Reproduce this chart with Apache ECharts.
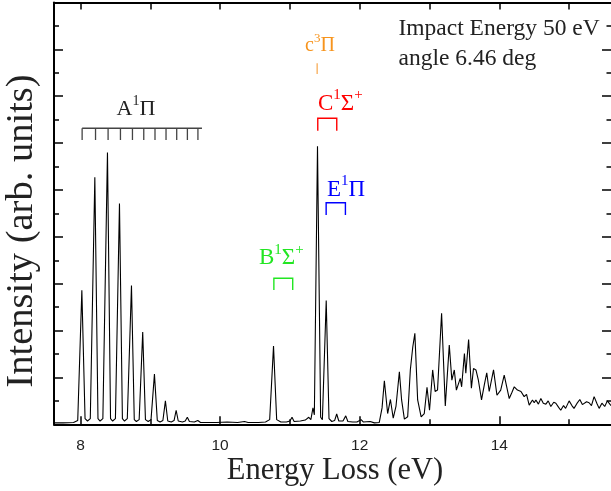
<!DOCTYPE html>
<html><head><meta charset="utf-8">
<script src="https://cdn.jsdelivr.net/npm/echarts@6/dist/echarts.min.js"></script>
<style>html,body{margin:0;padding:0;background:#fff}#c{width:611px;height:491px}</style>
</head><body><div id="c"></div>
<script>
// ---- data ----
// A1Π vibrational progression
const energyA = [7.62,7.75,7.90,7.96,8.019,8.065,8.10,8.14,8.205,8.25,8.28,8.32,8.386,8.43,8.46,8.50,8.558,8.60,8.63,8.67,8.730,8.77,8.80,8.84,8.891,8.93,8.97,9.01,9.059,9.10,9.14,9.18,9.216,9.25,9.30,9.34,9.37,9.40,9.46,9.50,9.53,9.56,9.63,9.68,9.72];
const intensityA = [0.03,0.03,0.04,0.08,2.86,0.12,0.07,0.12,5.27,0.12,0.07,0.12,5.80,0.12,0.07,0.12,4.71,0.12,0.07,0.12,2.96,0.10,0.06,0.10,1.97,0.10,0.06,0.10,1.07,0.08,0.05,0.08,0.50,0.07,0.05,0.08,0.30,0.07,0.05,0.07,0.15,0.06,0.05,0.08,0.04];
// B, C, E Rydberg states
const energyMid = [9.80,9.95,10.10,10.25,10.35,10.40,10.55,10.65,10.71,10.765,10.81,10.87,10.95,11.00,11.03,11.06,11.15,11.22,11.27,11.30,11.33,11.35,11.395,11.44,11.465,11.52,11.56,11.60,11.64,11.67,11.70,11.76,11.80,11.83,11.90,11.96,12.02,12.05,12.15];
const intensityMid = [0.04,0.04,0.05,0.04,0.06,0.04,0.04,0.05,0.10,1.67,0.10,0.05,0.05,0.07,0.15,0.06,0.07,0.09,0.15,0.10,0.35,0.20,5.93,0.15,0.10,2.64,0.12,0.06,0.08,0.22,0.07,0.07,0.18,0.06,0.05,0.05,0.10,0.05,0.06];
// higher Rydberg region
const energyHigh = [12.21,12.28,12.32,12.353,12.40,12.44,12.48,12.52,12.568,12.60,12.64,12.687,12.725,12.76,12.79,12.83,12.88,12.925,12.964,13.0,13.045,13.08,13.115,13.173,13.226,13.283,13.32,13.355,13.385,13.44,13.46,13.50,13.52,13.56,13.60,13.63,13.665,13.70,13.745,13.785,13.82,13.855,13.917,13.966,14.02,14.07];
const intensityHigh = [0.03,0.04,0.35,0.93,0.23,0.53,0.13,0.39,1.12,0.52,0.11,0.16,1.16,1.65,1.94,0.52,0.16,0.23,0.79,0.30,1.16,0.70,0.73,2.37,0.39,1.69,0.94,1.16,0.73,0.98,0.80,1.51,1.09,1.81,0.77,1.19,1.16,0.94,0.52,0.84,1.10,0.70,1.16,0.62,0.73,1.05];
// continuum tail
const energyTail = [14.142,14.18,14.214,14.26,14.31,14.356,14.39,14.428,14.475,14.50,14.524,14.56,14.595,14.63,14.667,14.70,14.738,14.78,14.81,14.85,14.88,14.92,14.95,15.0,15.04,15.07,15.11,15.153,15.19,15.215,15.25,15.286,15.32,15.358,15.40,15.43,15.47,15.51,15.548,15.6];
const intensityTail = [0.55,0.68,0.80,0.73,0.70,0.59,0.64,0.41,0.52,0.46,0.52,0.43,0.55,0.45,0.43,0.50,0.38,0.47,0.45,0.36,0.30,0.40,0.34,0.50,0.40,0.34,0.44,0.53,0.42,0.38,0.48,0.46,0.40,0.59,0.44,0.34,0.45,0.38,0.50,0.40];

const xMajorTicks = [8, 10, 12, 14];
const xMinorTicks = [9, 11, 13, 15];
const yMajorTicks = [1, 2, 3, 4, 5, 6, 7, 8];
const yMinorTicks = [0.5, 1.5, 2.5, 3.5, 4.5, 5.5, 6.5, 7.5, 8.5];
const aBandLevels = [8.023, 8.215, 8.395, 8.572, 8.744, 8.906, 9.067, 9.225, 9.378, 9.531, 9.682];
const aBandEnd = 9.74;
const bBand = [10.770, 11.040];
const cBand = [11.399, 11.671];
const eBand = [11.519, 11.795];
const cTriplet = 11.39;

const energy = energyA.concat(energyMid, energyHigh, energyTail);
const intensity = intensityA.concat(intensityMid, intensityHigh, intensityTail);

const SERIF = 'Liberation Serif';
const SANS = 'Liberation Sans';
const X_MIN = 7.62, X_MAX = 15.6;

const chart = echarts.init(document.getElementById('c'), null, {renderer: 'canvas'});

function xAx(pos, ticks, len, withLine, withLabel) {
  return {
    type: 'value', position: pos, min: X_MIN, max: X_MAX,
    axisLine: {show: withLine, onZero: false, lineStyle: {color: '#000', width: 2}},
    axisTick: {show: true, inside: true, length: len, customValues: ticks, lineStyle: {color: '#000', width: 1.5}},
    axisLabel: withLabel ? {show: true, customValues: ticks, margin: 13, fontFamily: SANS, fontSize: 15.5, color: '#222'} : {show: false},
    splitLine: {show: false}
  };
}
function yAx(pos, ticks, len, withLine) {
  return {
    type: 'value', position: pos, min: 0, max: 9,
    axisLine: {show: withLine, onZero: false, lineStyle: {color: '#000', width: 2}},
    axisTick: {show: true, inside: true, length: len, customValues: ticks, lineStyle: {color: '#000', width: 1.5}},
    axisLabel: {show: false},
    splitLine: {show: false}
  };
}

chart.setOption({
  animation: false,
  backgroundColor: '#fff',
  grid: {left: 54, right: 0, top: 2.5, bottom: 66.7, containLabel: false},
  xAxis: [
    xAx('bottom', xMajorTicks, 8, true, true),
    xAx('bottom', xMinorTicks, 5, false, false),
    xAx('top', xMajorTicks, 7, true, false),
    xAx('top', xMinorTicks, 7, false, false)
  ],
  yAxis: [
    yAx('left', yMajorTicks, 9, true),
    yAx('left', yMinorTicks, 5, false),
    yAx('right', yMajorTicks, 9, false),
    yAx('right', yMinorTicks, 4.5, false)
  ],
  series: [{
    type: 'line', xAxisIndex: 0, yAxisIndex: 0,
    data: energy.map((e, i) => [e, intensity[i]]),
    showSymbol: false, symbol: 'none',
    lineStyle: {color: '#000', width: 1.1},
    clip: true
  }]
});

function px(v) { return chart.convertToPixel({xAxisIndex: 0}, v); }

function richLabel(left, baseline, text, color, size, supSize) {
  const L = Math.round(size * 1.38);
  const top = baseline - (L / 2 + 0.3 * size);
  return {
    type: 'text', x: left, y: top, silent: true,
    style: {
      text: text, fill: color, align: 'left', verticalAlign: 'top', textAlign: 'left', textVerticalAlign: 'top',
      fontFamily: SERIF, fontSize: size,
      rich: {
        m: {fontFamily: SERIF, fontSize: size, lineHeight: L, fill: color},
        s: {fontFamily: SERIF, fontSize: supSize, lineHeight: supSize, verticalAlign: 'top', fill: color}
      }
    }
  };
}
function plainText(x, y, text, size, align, rot) {
  return {
    type: 'text', x: x, y: y, rotation: rot || 0, silent: true,
    style: {text: text, fill: '#222', fontFamily: SERIF, fontSize: size,
      align: align, verticalAlign: 'middle', textAlign: align, textVerticalAlign: 'middle'}
  };
}
function bracket(range, yTop, yBot, color) {
  const x1 = px(range[0]), x2 = px(range[1]);
  return {type: 'polyline', silent: true,
    shape: {points: [[x1, yBot], [x1, yTop], [x2, yTop], [x2, yBot]]},
    style: {stroke: color, lineWidth: 1.4, fill: null}};
}

const g = [];
// A1Π comb
const combTop = 128.3, combBot = 140;
g.push({type: 'line', silent: true, shape: {x1: px(aBandLevels[0]), y1: combTop, x2: px(aBandEnd), y2: combTop}, style: {stroke: '#444', lineWidth: 1.4}});
aBandLevels.forEach(v => {
  g.push({type: 'line', silent: true, shape: {x1: px(v), y1: combTop, x2: px(v), y2: combBot}, style: {stroke: '#444', lineWidth: 1.3}});
});
g.push(richLabel(116.5, 116, '{m|A}{s|1}{m|Π}', '#222', 22, 14));
// c3Π
g.push(richLabel(305, 51.7, '{m|c}{s|3}{m|Π}', '#f7941d', 20, 13));
g.push({type: 'line', silent: true, shape: {x1: px(cTriplet), y1: 63.3, x2: px(cTriplet), y2: 74}, style: {stroke: '#f7a54a', lineWidth: 1.2}});
// C1Σ+
g.push(richLabel(318, 110.7, '{m|C}{s|1}{m|Σ}{s|+}', '#ff0000', 23, 15));
g.push(bracket(cBand, 118.3, 130.7, '#ff0000'));
// E1Π
g.push(richLabel(327, 196.5, '{m|E}{s|1}{m|Π}', '#0000ff', 23, 15));
g.push(bracket(eBand, 202.7, 215, '#0000ff'));
// B1Σ+
g.push(richLabel(259, 265, '{m|B}{s|1}{m|Σ}{s|+}', '#22e622', 23, 15));
g.push(bracket(bBand, 278.3, 290, '#22e622'));
// info text
g.push(plainText(398.5, 29, 'Impact Energy 50 eV', 23.5, 'left'));
g.push(plainText(398.5, 58.5, 'angle 6.46 deg', 23.5, 'left'));
// axis titles
g.push(plainText(335, 470.5, 'Energy Loss (eV)', 30.5, 'center'));
g.push(plainText(21.5, 231, 'Intensity (arb. units)', 38.5, 'center', Math.PI / 2));

chart.setOption({graphic: {elements: g}});
</script></body></html>
